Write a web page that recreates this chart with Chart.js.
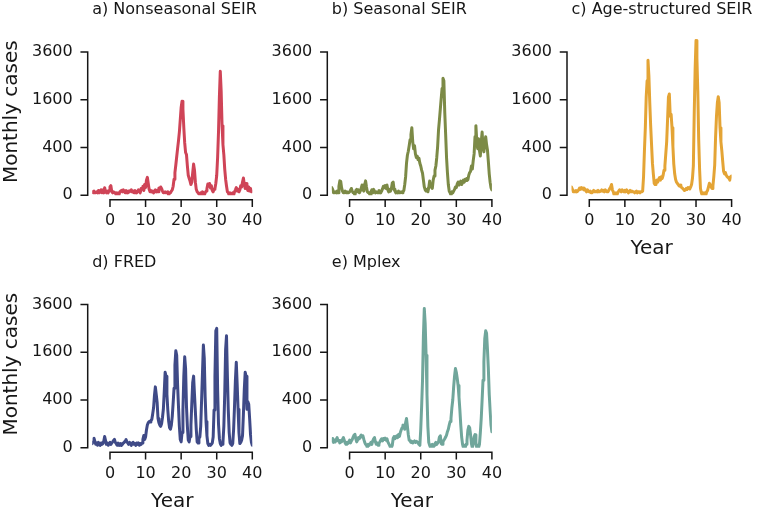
<!DOCTYPE html>
<html lang="en">
<head>
<meta charset="UTF-8">
<title>Monthly cases by model</title>
<script src="https://cdn.jsdelivr.net/npm/chart.js"></script>
<style>
    html, body { margin: 0; padding: 0; background: #fff; overflow: hidden; }
    #wrap { position: relative; width: 763px; height: 510px; overflow: hidden; }
    canvas { position: absolute; }
</style>
</head>
<body>
<div id="wrap">
    <canvas id="panel-a" width="280" height="262"></canvas>
    <canvas id="panel-b" width="280" height="262"></canvas>
    <canvas id="panel-c" width="280" height="262"></canvas>
    <canvas id="panel-d" width="280" height="262"></canvas>
    <canvas id="panel-e" width="280" height="262"></canvas>
</div>
<script>
// time grid: quarter-year steps from year -5 to 40
const years = [];
for (let i = 0; i <= 180; i++) years.push(-5 + i / 4);

const xTicks = [0, 10, 20, 30, 40];
const yTicks = [0, 400, 1600, 3600];

const titles = ['a) Nonseasonal SEIR', 'b) Seasonal SEIR', 'c) Age-structured SEIR', 'd) FRED', 'e) Mplex'];
const colors = ['#cf4457', '#7c8a46', '#e4a435', '#3f4a87', '#70a69b'];

// monthly cases, one group of four per year
const nonseasonal = [
    2, 1, 3, 1,   1, 2, 1, 4,   1, 2, 5, 1,   2, 1, 10, 2,   1, 3, 1, 4,
    12, 16, 2, 1,   2, 1, 1, 0,   1, 1, 0, 2,   3, 4, 2, 5,   3, 1, 4, 2,
    1, 3, 2, 4,   5, 2, 3, 1,   4, 2, 1, 2,   5, 3, 1, 8,   6, 14, 4, 20,
    10, 40, 56, 25,   6, 2, 4, 2,   3, 1, 3, 5,   2, 4, 2, 9,   6, 12, 8, 3,
    1, 1, 2, 1,   1, 2, 0, 1,   1, 3, 5, 14,   45, 90, 160, 260,   380, 520, 700, 1000,
    1350, 1550, 1300, 800,   480, 320, 290, 150,   70, 50, 35, 20,   30, 90, 170, 110,   30, 6, 2, 1,
    1, 0, 1, 0,   2, 1, 0, 1,   3, 8, 22, 14,   24, 9, 16, 4,   2, 6, 8, 25,
    70, 250, 700, 1700,   2700, 1900, 850, 450,   290, 120, 45, 15,   2, 1, 0, 1,   1, 0, 1, 0,
    2, 5, 10, 3,   6, 2, 5, 16,   12, 30, 52, 20,   8, 24, 10, 4,   12, 3, 8, 2,
    3
];
const seasonal = [
    10, 6, 1, 1,   2, 1, 3, 1,   14, 36, 34, 10,   3, 1, 1, 3,   1, 2, 1, 1,
    2, 4, 8, 3,   1, 1, 0, 4,   6, 2, 5, 1,   3, 8, 18, 5,   3, 20, 36, 12,
    2, 1, 1, 0,   2, 5, 1, 6,   3, 1, 2, 1,   1, 4, 2, 1,   3, 7, 14, 10,
    16, 8, 18, 5,   2, 6, 3, 8,   26, 30, 6, 3,   1, 2, 1, 3,   1, 1, 2, 1,
    2, 4, 20, 60,   180, 280, 340, 430,   540, 650, 800, 500,   380, 430, 300, 250,   270, 220, 240, 180,
    150, 110, 85, 40,   12, 5, 3, 6,   2, 10, 35, 12,   15, 8, 40, 65,   110, 150, 250, 420,
    750, 1000, 1300, 1650,   2000, 2400, 2300, 1200,   650, 250, 90, 20,   3, 1, 0, 2,   1, 3, 6, 12,
    10, 22, 30, 18,   25, 35, 20, 28,   40, 30, 45, 38,   50, 42, 70, 90,   100, 150, 120, 210,
    300, 600, 850, 520,   380, 560, 350, 270,   500, 700, 420, 330,   480, 600, 450, 360,   200, 80, 30, 10,
    5
];
const ageStructured = [
    12, 6, 2, 3,   2, 4, 2, 3,   5, 9, 6, 10,   7, 9, 5, 7,   4, 2, 5, 3,
    2, 3, 1, 2,   2, 4, 2, 2,   3, 2, 4, 2,   2, 3, 5, 3,   4, 2, 5, 3,
    2, 3, 4, 8,   12, 20, 5, 2,   0, 0, 1, 0,   1, 3, 5, 4,   2, 5, 3, 2,
    4, 2, 5, 3,   1, 2, 4, 2,   3, 2, 2, 1,   2, 3, 1, 2,   2, 1, 2, 2,
    3, 60, 350, 800,   1700, 2300, 3200, 2500,   1500, 850, 450, 180,   80, 25, 20, 35,   40, 30, 45, 55,
    40, 60, 50, 70,   110, 150, 300, 500,   1000, 1700, 1800, 1100,   1150, 800, 420, 170,   80, 45, 30, 25,
    20, 15, 18, 12,   10, 8, 6, 4,   5, 8, 6, 10,   9, 7, 12, 20,   50, 150, 1200, 2800,
    4200, 3300, 1900, 550,   120, 8, 1, 0,   1, 0, 1, 0,   2, 4, 12, 25,   20, 12, 8, 15,
    60, 160, 600, 1100,   1500, 1700, 1500, 800,   500, 350, 200, 100,   80, 90, 70, 60,   55, 50, 40, 60,
    65
];
const fred = [
    3, 6, 16, 7,   2, 4, 1, 5,   3, 1, 4, 2,   3, 7, 22, 9,   2, 4, 1, 3,
    5, 2, 4, 6,   9, 12, 5, 3,   1, 4, 2, 1,   3, 1, 2, 4,   5, 8, 12, 6,
    4, 2, 5, 3,   1, 4, 5, 2,   3, 1, 4, 2,   4, 1, 3, 2,   4, 12, 26, 12,
    20, 55, 90, 110,   120, 115, 130, 140,   200, 280, 480, 650,   500, 360, 150, 110,   90, 80, 100, 160,
    260, 550, 1000, 900,   500, 250, 120, 70,   60, 90, 170, 350,   620, 1200, 1650, 1500,   700, 300, 80, 12,
    6, 40, 250, 900,   1450, 1100, 300, 80,   10, 6, 22, 90,   350, 750, 900, 500,   230, 60, 6, 4,
    15, 20, 80, 400,   1000, 1850, 1400, 450,   120, 25, 3, 1,   2, 1, 2, 4,   20, 250, 900, 2400,
    2500, 600, 100, 15,   3, 1, 2, 5,   80, 500, 1700, 2200,   900, 250, 40, 4,   2, 1, 3, 60,
    300, 800, 1280, 700,   260, 40, 3, 5,   10, 25, 200, 600,   1000, 900, 260, 370,   330, 150, 30, 5,
    1
];
const mplex = [
    8, 15, 5, 10,   6, 12, 18, 8,   10, 4, 9, 6,   12, 18, 10, 4,   2, 5, 3, 6,
    10, 4, 8, 12,   20, 28, 32, 14,   6, 10, 18, 14,   22, 28, 20, 25,   12, 5, 2, 1,
    0, 2, 1, 3,   5, 2, 8, 14,   18, 6, 2, 4,   1, 3, 6, 10,   14, 8, 15, 12,
    16, 10, 14, 6,   3, 1, 0, 0,   1, 15, 22, 14,   20, 25, 18, 30,   22, 40, 55, 70,
    90, 80, 60, 110,   150, 80, 30, 10,   8, 5, 7, 4,   6, 8, 5, 7,   6, 4, 2, 1,
    60, 300, 800, 2200,   3400, 2700, 1500, 500,   80, 5, 1, 0,   1, 2, 0, 1,   3, 5, 2, 4,
    6, 20, 25, 3,   2, 6, 10, 14,   20, 28, 45, 60,   90, 120, 150, 280,   400, 650, 900, 1100,
    1000, 850, 680, 450,   250, 90, 20, 2,   0, 1, 0, 2,   10, 55, 80, 70,   30, 3, 0, 2,
    20, 30, 5, 0,   1, 0, 2, 40,   150, 400, 800, 1300,   2100, 2400, 2300, 1700,   1100, 500, 250, 90,
    45
];

const series = [nonseasonal, seasonal, ageStructured, fred, mplex];
const showMonthly = [true, false, false, true, false];
const showYear = [false, false, true, true, true];

// page geometry: canvas corner and plot box [left, top, bottom]
const frames = [
    {id: 'panel-a', left: 0,   top: -4,  plot: [92.2, 28.2, 195.2]},
    {id: 'panel-b', left: 240, top: -4,  plot: [331.8, 28.2, 195.2]},
    {id: 'panel-c', left: 479, top: -4,  plot: [571.5, 28.2, 195.2]},
    {id: 'panel-d', left: 0,   top: 248, plot: [92.2, 280.7, 447.7]},
    {id: 'panel-e', left: 240, top: 248, plot: [331.8, 280.7, 447.7]}
];
const CW = 280, CH = 262, PLOT_W = 160.1, X_H = 62;
const ink = '#161616';

// square-root value axis
class SqrtScale extends Chart.LinearScale {
    static id = 'sqrt';
    static defaults = {};
    getPixelForValue(value) {
        const lo = Math.sqrt(this.min), hi = Math.sqrt(this.max);
        return this.getPixelForDecimal((Math.sqrt(Math.max(value, 0)) - lo) / (hi - lo));
    }
    getValueForPixel(pixel) {
        const lo = Math.sqrt(this.min), hi = Math.sqrt(this.max);
        const s = lo + this.getDecimalForPixel(pixel) * (hi - lo);
        return s * s;
    }
}
Chart.register(SqrtScale);

// offset, trimmed spines (seaborn despine look) plus the panel title
function frameDecor(title) {
    return {
        id: 'frameDecor',
        afterDraw(chart) {
            const {ctx, chartArea: a} = chart;
            const x = chart.scales.x, y = chart.scales.y;
            const off = 4.5, tl = 6.5;
            const sx = a.left - off, sy = a.bottom + off;
            ctx.save();
            ctx.strokeStyle = ink;
            ctx.lineWidth = 1.5;
            ctx.lineCap = 'square';
            ctx.beginPath();
            ctx.moveTo(sx, y.getPixelForValue(yTicks[0]));
            ctx.lineTo(sx, y.getPixelForValue(yTicks[yTicks.length - 1]));
            yTicks.forEach(v => {
                const p = y.getPixelForValue(v);
                ctx.moveTo(sx, p);
                ctx.lineTo(sx - tl, p);
            });
            ctx.moveTo(x.getPixelForValue(xTicks[0]), sy);
            ctx.lineTo(x.getPixelForValue(xTicks[xTicks.length - 1]), sy);
            xTicks.forEach(v => {
                const p = x.getPixelForValue(v);
                ctx.moveTo(p, sy);
                ctx.lineTo(p, sy + tl);
            });
            ctx.stroke();

            ctx.fillStyle = ink;
            ctx.font = '16px "DejaVu Sans", sans-serif';
            ctx.textAlign = 'left';
            ctx.textBaseline = 'middle';
            ctx.fillText(title, a.left, a.top - 18.3);
            ctx.restore();
        }
    };
}

Chart.defaults.font.family = '"DejaVu Sans", sans-serif';
Chart.defaults.color = ink;

frames.forEach((f, i) => {
    const cv = document.getElementById(f.id);
    cv.style.left = f.left + 'px';
    cv.style.top = f.top + 'px';

    const [pl, pt, pb] = f.plot;
    const yW = pl - f.left;
    const padR = CW - yW - PLOT_W;
    const relTop = pt - f.top, relBottom = pb - f.top;
    const padB = CH - relBottom - X_H;

    new Chart(cv, {
        type: 'line',
        data: {
            datasets: [{
                data: years.map((yr, k) => ({x: yr, y: series[i][k]})),
                borderColor: colors[i],
                borderWidth: 3,
                borderJoinStyle: 'round',
                borderCapStyle: 'round',
                pointRadius: 0,
                tension: 0
            }]
        },
        options: {
            responsive: false,
            animation: false,
            events: [],
            layout: {padding: {left: 0, top: relTop, right: padR, bottom: padB}},
            plugins: {
                legend: {display: false},
                tooltip: {enabled: false},
                title: {display: false}
            },
            scales: {
                x: {
                    type: 'linear',
                    min: -5,
                    max: 40,
                    grid: {display: false, drawTicks: false, tickLength: 0},
                    border: {display: false},
                    ticks: {font: {size: 16}, padding: 16.2, autoSkip: false, maxRotation: 0, callback: v => String(v)},
                    afterBuildTicks: s => { s.ticks = xTicks.map(v => ({value: v})); },
                    afterFit: s => { s.height = X_H; },
                    title: {display: showYear[i], text: 'Year', font: {size: 20, lineHeight: 1}, padding: {top: 0, bottom: -2}}
                },
                y: {
                    type: 'sqrt',
                    min: 0,
                    max: 4900,
                    grid: {display: false, drawTicks: false, tickLength: 0},
                    border: {display: false},
                    ticks: {font: {size: 16}, padding: 19.5, autoSkip: false, callback: v => String(v)},
                    afterBuildTicks: s => { s.ticks = yTicks.map(v => ({value: v})); },
                    afterFit: s => { s.width = yW; },
                    title: {display: showMonthly[i], text: 'Monthly cases', font: {size: 20, lineHeight: 1}, padding: {top: 1.6, bottom: 0}}
                }
            }
        },
        plugins: [frameDecor(titles[i])]
    });
});
</script>
</body>
</html>
